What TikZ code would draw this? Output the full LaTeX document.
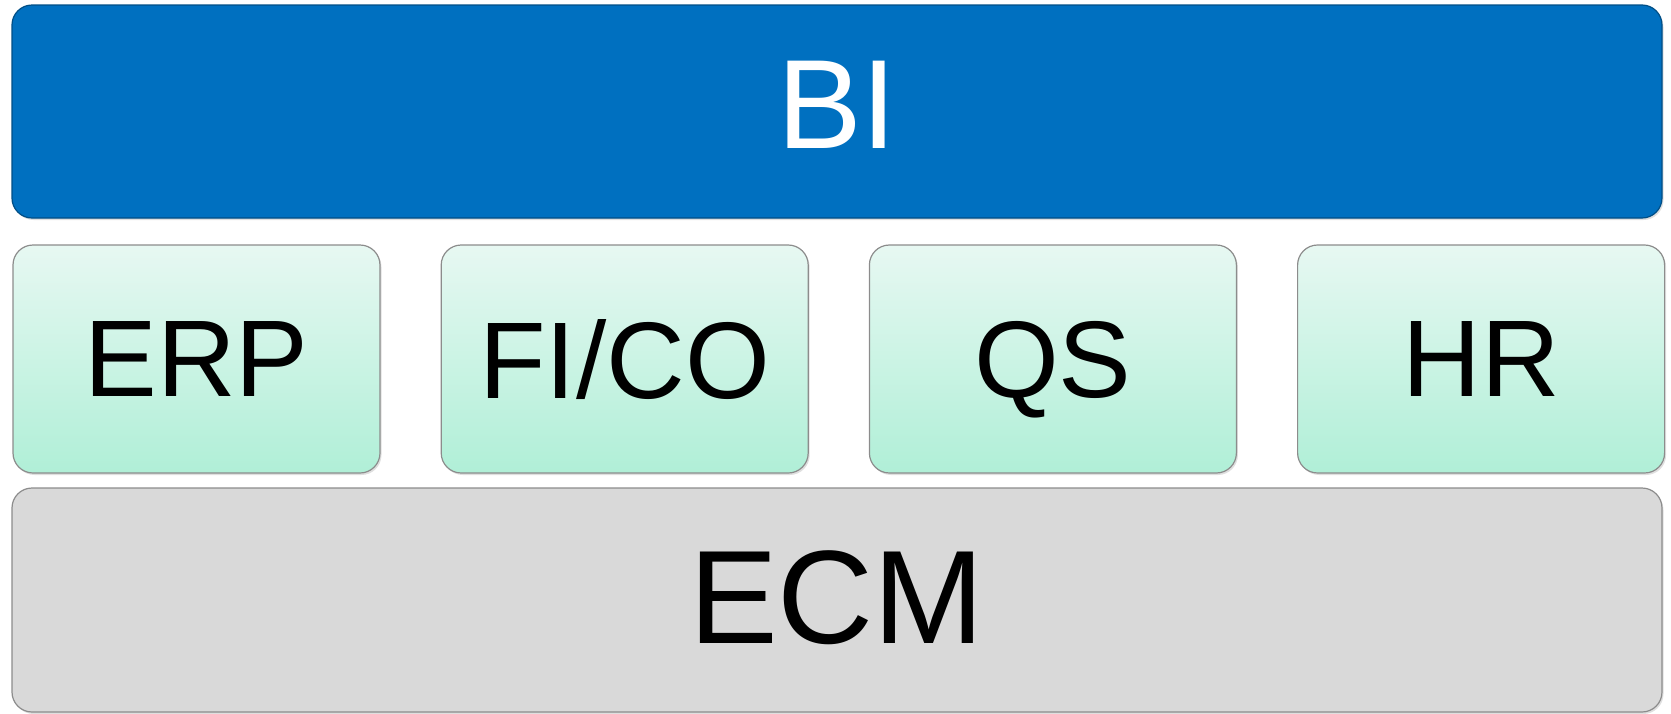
\documentclass[tikz,border=0pt]{standalone}
\usepackage{fontspec}
\setmainfont{Liberation Sans}
\usetikzlibrary{positioning,shadows}

\definecolor{biblue}{HTML}{0070C0}
\definecolor{modtop}{HTML}{E7F8F2}
\definecolor{modbot}{HTML}{B0EFD7}
\definecolor{ecmgray}{HTML}{D9D9D9}
\definecolor{edgegray}{HTML}{8C8C8C}

\begin{document}
\begin{tikzpicture}[x=1pt,y=1pt,
    layer node/.style={rectangle,rounded corners=20pt,draw=edgegray,line width=1.2pt,
      inner sep=0pt,minimum width=1650pt,
      drop shadow={shadow xshift=1.5pt,shadow yshift=-2pt,opacity=0.25}},
    module node/.style={rectangle,rounded corners=20pt,draw=edgegray,line width=1.2pt,
      inner sep=0pt,minimum width=367pt,minimum height=228pt,text depth=0pt,
      top color=modtop,bottom color=modbot,
      font=\fontsize{109}{112}\selectfont,
      drop shadow={shadow xshift=1.5pt,shadow yshift=-2pt,opacity=0.25}}]
  \useasboundingbox (0,0) rectangle (1671,-713);

  \node[layer node,fill=biblue,draw=biblue!70!black,minimum height=213pt,
    text=white,text depth=13pt,font=\fontsize{127}{130}\selectfont] (bi) at (837,-111.5) {BI};

  \node[module node] (erp) at (196.5,-359) {ERP};
  \node[module node] (fico) [right=60pt of erp] {FI/CO};
  \node[module node] (qs) [right=60pt of fico] {QS};
  \node[module node] (hr) [right=60pt of qs] {HR};

  \node[layer node,fill=ecmgray,minimum height=224pt,text depth=6pt,
    font=\fontsize{133}{136}\selectfont] (ecm) at (837,-600) {ECM};

\end{tikzpicture}
\end{document}
